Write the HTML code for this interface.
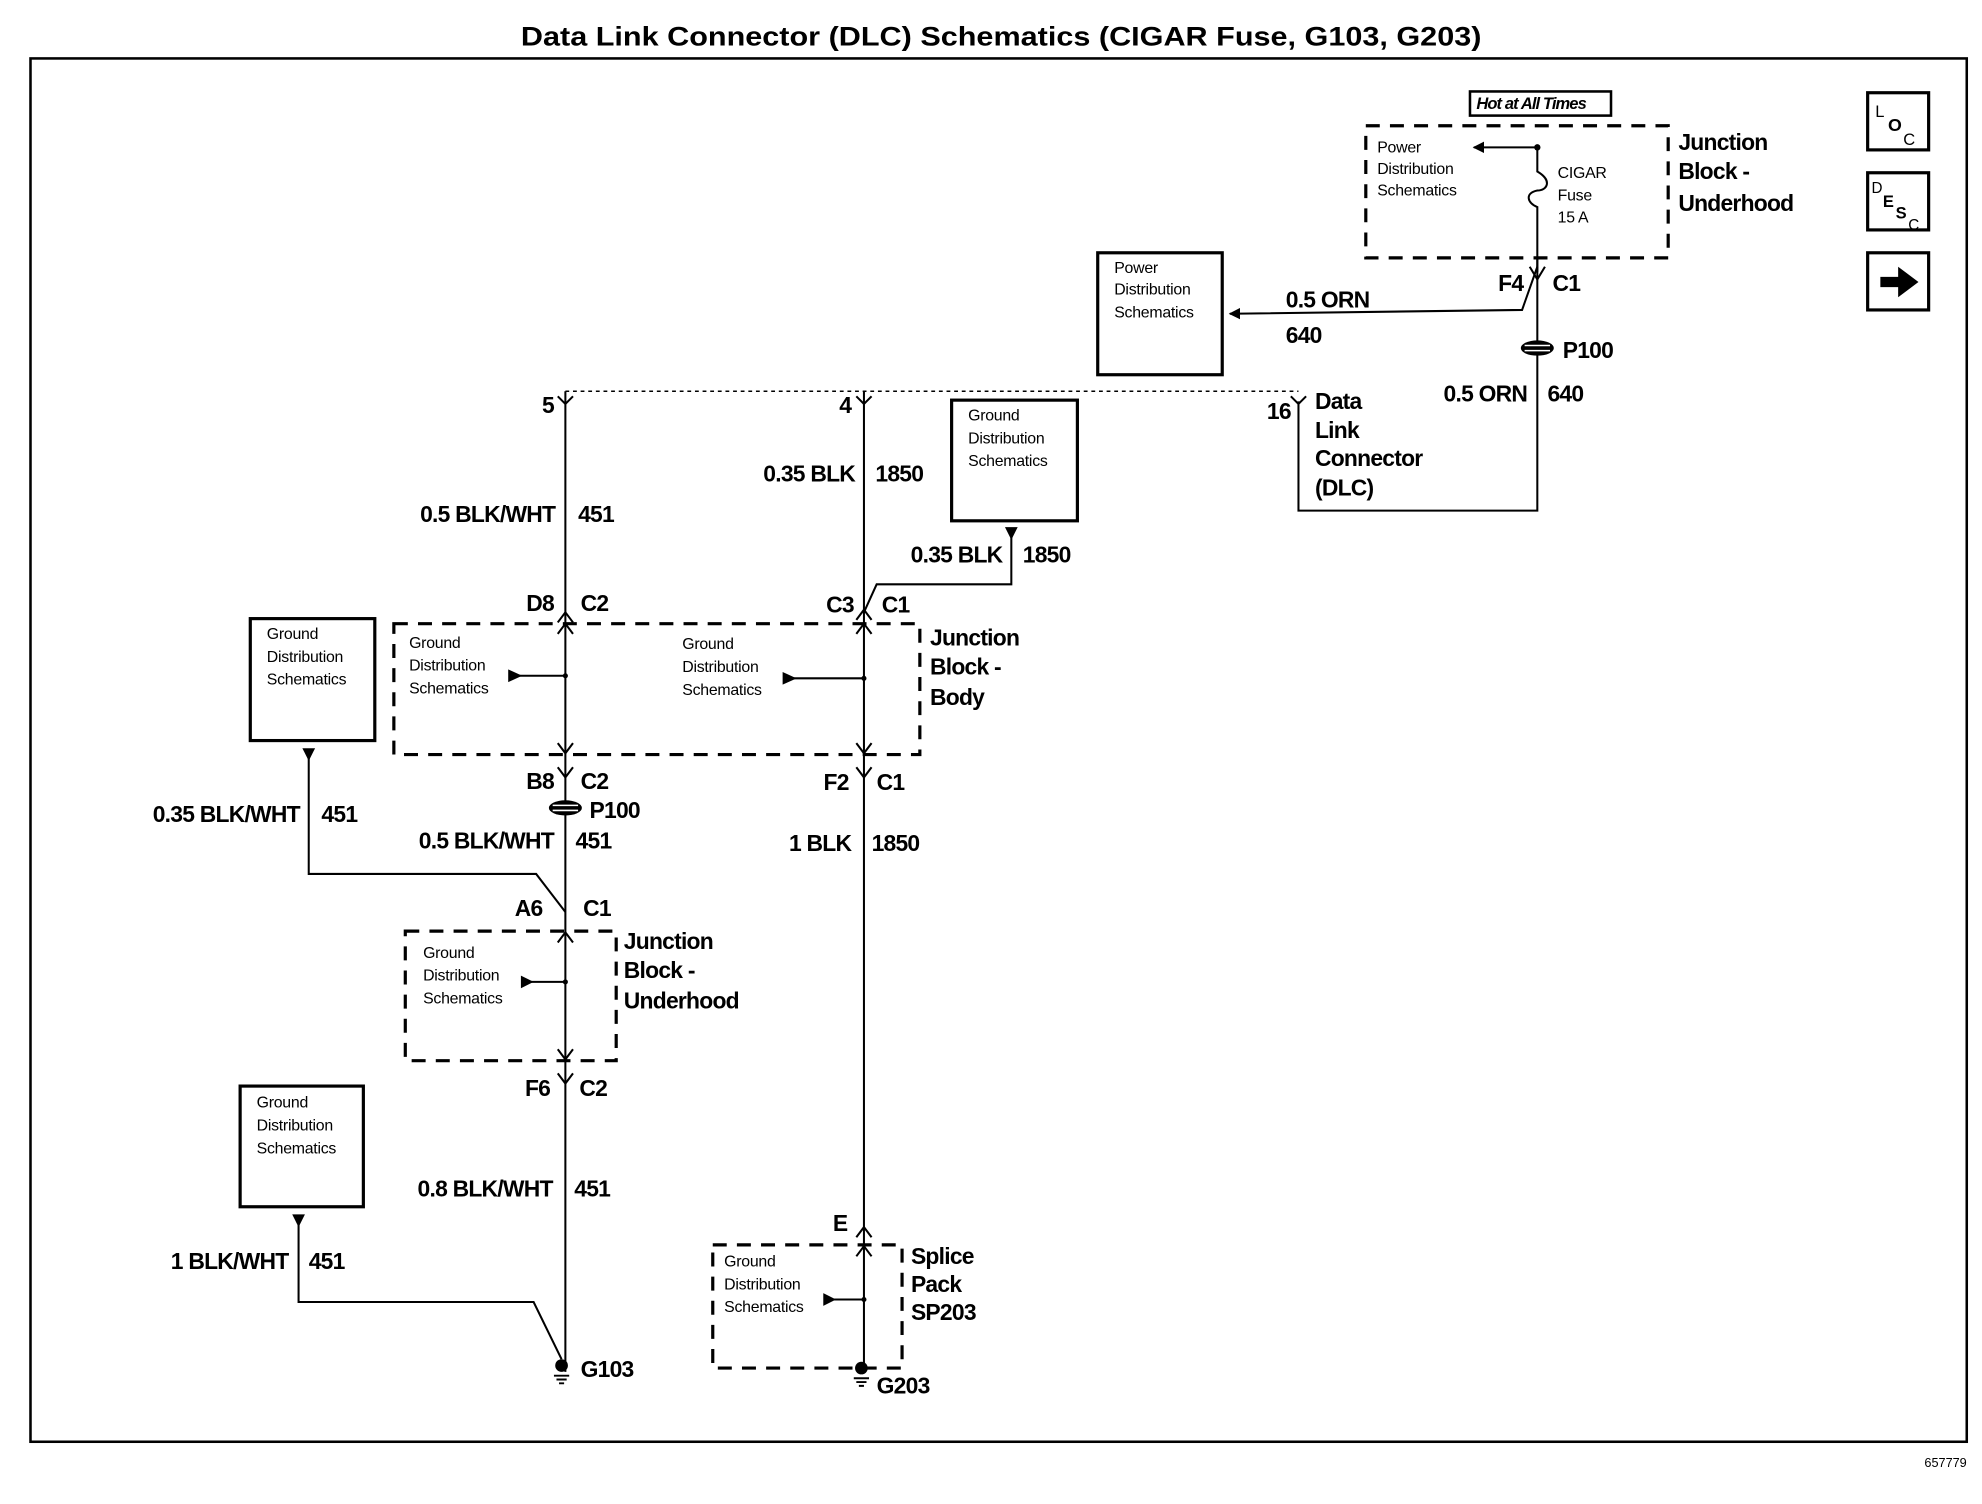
<!DOCTYPE html>
<html><head><meta charset="utf-8"><style>
html,body{margin:0;padding:0;background:#fff}
svg{display:block}
text{font-family:"Liberation Sans",Arial,sans-serif;fill:#000}
.l{font-size:18px;font-weight:bold;letter-spacing:-0.6px}
.s{font-size:12.5px;letter-spacing:-0.2px}
.e{text-anchor:end}
</style></head><body>
<svg width="1982" height="1504" viewBox="0 0 1560 1184" preserveAspectRatio="none" xmlns="http://www.w3.org/2000/svg">
<defs>
<marker id="ar" viewBox="0 0 10 10" refX="9" refY="5" markerWidth="9" markerHeight="9" orient="auto" markerUnits="userSpaceOnUse"><path d="M0,0 L10,5 L0,10 z" fill="#000"/></marker>
</defs>
<text x="410" y="36" textLength="756" lengthAdjust="spacingAndGlyphs" style="font-size:21px;font-weight:bold">Data Link Connector (DLC) Schematics (CIGAR Fuse, G103, G203)</text>
<rect x="24" y="46" width="1524" height="1089" fill="none" stroke="#000" stroke-width="2"/>
<text x="1548" y="1155" class="e" style="font-size:10px">657779</text>

<g fill="none" stroke="#000" stroke-width="2.5">
<rect x="1470" y="73" width="48" height="45"/>
<rect x="1470" y="136" width="48" height="45"/>
<rect x="1470" y="199" width="48" height="45"/>
</g>
<text x="1476" y="92" style="font-size:13px">L</text><text x="1486" y="103" style="font-size:14px;font-weight:bold">O</text><text x="1498" y="114" style="font-size:13px">C</text>
<text x="1473" y="152" style="font-size:12px">D</text><text x="1482" y="163" style="font-size:13px;font-weight:bold">E</text><text x="1492" y="172" style="font-size:13px;font-weight:bold">S</text><text x="1502" y="181" style="font-size:12px">C</text>
<path d="M1480,218 L1494,218 L1494,210 L1510,222 L1494,234 L1494,226 L1480,226 z" fill="#000"/>

<g fill="none" stroke="#000">
<g stroke-width="2.5" stroke-dasharray="11,8">
<rect x="1075" y="99" width="238" height="104"/>
<rect x="310" y="491" width="414" height="103"/>
<rect x="319" y="733" width="166" height="102"/>
<rect x="561" y="980" width="149" height="97"/>
</g>
<g stroke-width="2.5">
<rect x="1157" y="72" width="111" height="19" stroke-width="2"/>
<rect x="864" y="199" width="98" height="96"/>
<rect x="749" y="315" width="99" height="95"/>
<rect x="197" y="487" width="98" height="96"/>
<rect x="189" y="855" width="97" height="95"/>
</g>
<g stroke-width="1.6">
<path d="M1210,116 L1210,135 C1222,142 1218,150 1210,150 C1200,152 1202,160 1210,163 L1210,214"/>
<path d="M1210,116 L1160,116" marker-end="url(#ar)"/>
<path d="M1210,203 L1210,402 L1022,402 L1022,316"/>
<path d="M1210,210 L1198,244 L968,247" marker-end="url(#ar)"/>
<path d="M1204,210 L1210,220 L1216,210"/>
<path d="M445,308 L1022,308" stroke-dasharray="3,3" stroke-width="1.2"/>
<path d="M1016,312 L1022,318 L1028,312"/>
<path d="M445,308 L445,1080"/>
<path d="M439,312 L445,318 L451,312"/>
<path d="M439,490 L445,482 L451,490"/>
<path d="M439,499 L445,491 L451,499"/>
<path d="M439,585 L445,593 L451,585"/>
<path d="M439,604 L445,612 L451,604"/>
<path d="M439,742 L445,734 L451,742"/>
<path d="M439,826 L445,834 L451,826"/>
<path d="M439,845 L445,853 L451,845"/>
<path d="M680,308 L680,1075"/>
<path d="M674,312 L680,318 L686,312"/>
<path d="M674,488 L680,480 L686,488"/>
<path d="M674,499 L680,491 L686,499"/>
<path d="M674,585 L680,593 L686,585"/>
<path d="M674,604 L680,612 L686,604"/>
<path d="M674,974 L680,966 L686,974"/>
<path d="M674,989 L680,981 L686,989"/>
<path d="M796,416 L796,460 L690,460 L680,482"/>
<path d="M243,590 L243,688 L422,688 L445,718"/>
<path d="M235,957 L235,1025 L420,1025 L442,1070"/>
<path d="M445,532 L402,532"/>
<path d="M680,534 L618,534"/>
<path d="M445,773 L412,773"/>
<path d="M680,1023 L650,1023"/>
</g>
</g>
<g fill="#000">
<path d="M400,527 L411,532 L400,537 z"/>
<path d="M616,529 L627,534 L616,539 z"/>
<path d="M410,768 L420,773 L410,778 z"/>
<path d="M648,1018 L658,1023 L648,1028 z"/>
<circle cx="1210" cy="116" r="2.5"/>
<path d="M791,415 L801,415 L796,425 z"/>
<path d="M238,589 L248,589 L243,599 z"/>
<path d="M230,956 L240,956 L235,966 z"/>
<ellipse cx="1210" cy="274" rx="13" ry="6"/>
<ellipse cx="445" cy="636" rx="13" ry="6"/>
<circle cx="442" cy="1075" r="5"/>
<circle cx="678" cy="1077" r="5"/>
<circle cx="445" cy="532" r="2"/><circle cx="680" cy="534" r="2"/><circle cx="445" cy="773" r="2"/><circle cx="680" cy="1023" r="2"/>
</g>
<g stroke="#fff" stroke-width="1.2"><path d="M1200,272 L1220,272 M1200,276 L1220,276 M435,634 L455,634 M435,638 L455,638"/></g>
<g stroke="#000" stroke-width="1.5"><path d="M436,1083 L448,1083 M438,1086 L446,1086 M440,1089 L444,1089 M672,1085 L684,1085 M674,1088 L682,1088 M676,1091 L680,1091"/></g>

<text x="1162" y="86" style="font-size:13px;font-style:italic;font-weight:bold;letter-spacing:-0.7px">Hot at All Times</text>
<text x="1321" y="118" class="l">Junction</text><text x="1321" y="141" class="l">Block -</text><text x="1321" y="166" class="l">Underhood</text>
<text x="1084" y="120" class="s">Power</text><text x="1084" y="137" class="s">Distribution</text><text x="1084" y="154" class="s">Schematics</text>
<text x="1226" y="140" class="s">CIGAR</text><text x="1226" y="158" class="s">Fuse</text><text x="1226" y="175" class="s">15 A</text>
<text x="1199" y="229" class="l e">F4</text><text x="1222" y="229" class="l">C1</text>
<text x="877" y="215" class="s">Power</text><text x="877" y="232" class="s">Distribution</text><text x="877" y="250" class="s">Schematics</text>
<text x="1012" y="242" class="l">0.5 ORN</text><text x="1012" y="270" class="l">640</text>
<text x="1230" y="282" class="l">P100</text>
<text x="1202" y="316" class="l e">0.5 ORN</text><text x="1218" y="316" class="l">640</text>
<text x="1016" y="330" class="l e">16</text>
<text x="1035" y="322" class="l">Data</text><text x="1035" y="345" class="l">Link</text><text x="1035" y="367" class="l">Connector</text><text x="1035" y="390" class="l">(DLC)</text>
<text x="436" y="325" class="l e">5</text><text x="670" y="325" class="l e">4</text>
<text x="762" y="331" class="s">Ground</text><text x="762" y="349" class="s">Distribution</text><text x="762" y="367" class="s">Schematics</text>
<text x="673" y="379" class="l e">0.35 BLK</text><text x="689" y="379" class="l">1850</text>
<text x="437" y="411" class="l e">0.5 BLK/WHT</text><text x="455" y="411" class="l">451</text>
<text x="789" y="443" class="l e">0.35 BLK</text><text x="805" y="443" class="l">1850</text>
<text x="436" y="481" class="l e">D8</text><text x="457" y="481" class="l">C2</text>
<text x="672" y="482" class="l e">C3</text><text x="694" y="482" class="l">C1</text>
<text x="732" y="508" class="l">Junction</text><text x="732" y="531" class="l">Block -</text><text x="732" y="555" class="l">Body</text>
<text x="322" y="510" class="s">Ground</text><text x="322" y="528" class="s">Distribution</text><text x="322" y="546" class="s">Schematics</text>
<text x="537" y="511" class="s">Ground</text><text x="537" y="529" class="s">Distribution</text><text x="537" y="547" class="s">Schematics</text>
<text x="210" y="503" class="s">Ground</text><text x="210" y="521" class="s">Distribution</text><text x="210" y="539" class="s">Schematics</text>
<text x="436" y="621" class="l e">B8</text><text x="457" y="621" class="l">C2</text>
<text x="668" y="622" class="l e">F2</text><text x="690" y="622" class="l">C1</text>
<text x="464" y="644" class="l">P100</text>
<text x="236" y="647" class="l e">0.35 BLK/WHT</text><text x="253" y="647" class="l">451</text>
<text x="436" y="668" class="l e">0.5 BLK/WHT</text><text x="453" y="668" class="l">451</text>
<text x="670" y="670" class="l e">1 BLK</text><text x="686" y="670" class="l">1850</text>
<text x="427" y="721" class="l e">A6</text><text x="459" y="721" class="l">C1</text>
<text x="491" y="747" class="l">Junction</text><text x="491" y="770" class="l">Block -</text><text x="491" y="794" class="l">Underhood</text>
<text x="333" y="754" class="s">Ground</text><text x="333" y="772" class="s">Distribution</text><text x="333" y="790" class="s">Schematics</text>
<text x="433" y="863" class="l e">F6</text><text x="456" y="863" class="l">C2</text>
<text x="202" y="872" class="s">Ground</text><text x="202" y="890" class="s">Distribution</text><text x="202" y="908" class="s">Schematics</text>
<text x="435" y="942" class="l e">0.8 BLK/WHT</text><text x="452" y="942" class="l">451</text>
<text x="667" y="969" class="l e">E</text>
<text x="717" y="995" class="l">Splice</text><text x="717" y="1017" class="l">Pack</text><text x="717" y="1039" class="l">SP203</text>
<text x="570" y="997" class="s">Ground</text><text x="570" y="1015" class="s">Distribution</text><text x="570" y="1033" class="s">Schematics</text>
<text x="227" y="999" class="l e">1 BLK/WHT</text><text x="243" y="999" class="l">451</text>
<text x="457" y="1084" class="l">G103</text>
<text x="690" y="1097" class="l">G203</text>
</svg>
</body></html>
